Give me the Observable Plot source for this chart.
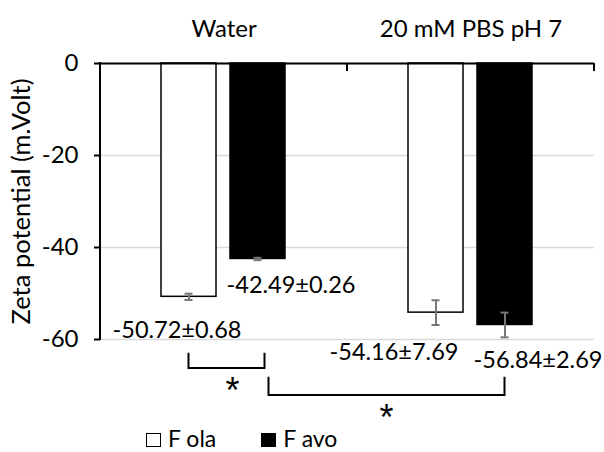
<!DOCTYPE html>
<html><head><meta charset="utf-8">
<script src="https://cdn.jsdelivr.net/npm/d3@7"></script>
<script src="https://cdn.jsdelivr.net/npm/@observablehq/plot@0.6"></script>
<style>
body{margin:0;background:#fff;position:relative;width:604px;height:452px;overflow:hidden;}
#chart{position:absolute;left:0;top:0;}
#legend{position:absolute;left:0;top:425px;display:flex;align-items:center;height:26px;line-height:26px;padding-left:146px;font-family:Lato,sans-serif;font-size:23px;color:#000;}
#legend .sw{display:inline-block;width:13px;height:12px;border:1.5px solid #000;margin-right:7px;position:relative;top:2px;}
#legend .item{display:flex;align-items:center;margin-right:45px;}
</style></head><body><div id="chart"></div><div id="legend"></div>
<script>
// ---- data ----
const groups = ["Water", "20 mM PBS pH 7"];
const series = ["F ola", "F avo"];
const waterValues = [-50.72, -42.49];
const pbsValues = [-54.16, -56.84];
const waterErrors = [0.68, 0.26];
const pbsErrors = [2.69, 2.69];          // error bars as drawn
const waterLabels = ["-50.72±0.68", "-42.49±0.26"];
const pbsLabels = ["-54.16±7.69", "-56.84±2.69"];
const yTicks = [0, -20, -40, -60];
const seriesColors = ["#ffffff", "#000000"];
const yLabel = "Zeta potential (m.Volt)";
const brackets = [
  {from: ["Water", "F ola"], to: ["Water", "F avo"], text: "*"},
  {from: ["Water", "F avo"], to: ["20 mM PBS pH 7", "F avo"], text: "*"}
];

// ---- layout (not data) ----
const labelOffsets = [[-12, 34], [33, 27], [-42, 40], [33, 36]];
const bracketLayout = [
  {top: -63, bottom: -66.3, dx1: 0, dx2: 7, starDx: 6, starY: -69.4},
  {top: -68.2, bottom: -72.2, dx1: 11, dx2: 0, starDx: 0, starY: -75.4}
];
const FONT = "Lato, sans-serif";

const values = [waterValues, pbsValues];
const errors = [waterErrors, pbsErrors];
const labels = [waterLabels, pbsLabels];
const rows = groups.flatMap((g, gi) => series.map((s, si) => ({
  group: g, series: s, value: values[gi][si], error: errors[gi][si], label: labels[gi][si]
})));

const labelMarks = rows.map((r, i) => Plot.text([r], {
  fx: "group", x: "series", y: "value", text: "label",
  dx: labelOffsets[i][0], dy: labelOffsets[i][1], fontSize: 23.5, fill: "#000"
}));

const plot = Plot.plot({
  width: 604, height: 441,
  marginTop: 63, marginBottom: 102, marginLeft: 100, marginRight: 10,
  style: {fontFamily: FONT, color: "#000", background: "transparent"},
  fx: {domain: groups, padding: 0},
  x: {domain: series, paddingInner: 0.2, paddingOuter: 0.88, axis: null},
  y: {domain: [-60, 0]},
  color: {domain: series, range: seriesColors},
  marks: [
    Plot.gridY(yTicks, {stroke: "#d9d9d9", strokeOpacity: 1, strokeWidth: 1.5}),
    Plot.barY(rows, {fx: "group", x: "series", y: "value", fill: "series", stroke: "#000", strokeWidth: 1.5}),
    Plot.ruleX(rows, {fx: "group", x: "series", y1: d => d.value - d.error, y2: d => d.value + d.error, stroke: "#777", strokeWidth: 2}),
    Plot.tickY(rows, {fx: "group", x: "series", y: d => d.value - d.error, stroke: "#777", strokeWidth: 2, insetLeft: 23.5, insetRight: 23.5}),
    Plot.tickY(rows, {fx: "group", x: "series", y: d => d.value + d.error, stroke: "#777", strokeWidth: 2, insetLeft: 23.5, insetRight: 23.5}),
    Plot.ruleY([0], {stroke: "#000", strokeWidth: 2}),
    ...labelMarks,
    Plot.axisY({ticks: yTicks, tickFormat: d => String(d), tickSize: 6, tickPadding: 16, fontSize: 24, stroke: "#000", strokeWidth: 2, label: null}),
    Plot.axisY({ticks: [], tickSize: 0, fontSize: 25.5, label: yLabel, labelAnchor: "center", labelOffset: 89, labelArrow: "none"}),
    Plot.axisFx({anchor: "top", tickSize: 0, tickPadding: 27, fontSize: 24, label: null})
  ]
});

// annotations drawn from the plot's own scales
const fx = plot.scale("fx"), xs = plot.scale("x"), ys = plot.scale("y");
const X = (g, s) => fx.apply(g) + (xs.apply(s) - xs.range[0]) + xs.bandwidth / 2;
const svg = d3.select(plot);
const ann = svg.append("g").attr("fill", "none").attr("stroke", "#000").attr("stroke-width", 2);
// y axis line
const x0 = fx.apply(groups[0]);
ann.append("line").attr("x1", x0).attr("x2", x0).attr("y1", ys.apply(0) - 1).attr("y2", ys.apply(-60) + 1);
// category boundary ticks on the zero line
const edges = groups.map(g => fx.apply(g)).concat([fx.apply(groups[groups.length - 1]) + fx.bandwidth]);
edges.slice(1).forEach(e => ann.append("line").attr("x1", e).attr("x2", e).attr("y1", ys.apply(0)).attr("y2", ys.apply(0) + 8));
// significance brackets
brackets.forEach((b, i) => {
  const L = bracketLayout[i];
  const xa = X(...b.from) + L.dx1, xb = X(...b.to) + L.dx2;
  const yt = ys.apply(L.top), yb = ys.apply(L.bottom);
  ann.append("path").attr("d", `M${xa},${yt}V${yb}H${xb}V${yt}`);
  svg.append("text").attr("x", (xa + xb) / 2 + L.starDx).attr("y", ys.apply(L.starY))
    .attr("dy", "0.57em").attr("text-anchor", "middle")
    .attr("font-family", "Liberation Sans, sans-serif").attr("font-size", 36).attr("fill", "#000").text(b.text);
});

document.getElementById("chart").appendChild(plot);

// legend
const leg = d3.select("#legend");
series.forEach((s, i) => {
  const it = leg.append("div").attr("class", "item");
  it.append("span").attr("class", "sw").style("background", seriesColors[i]);
  it.append("span").text(s);
});
</script></body></html>
